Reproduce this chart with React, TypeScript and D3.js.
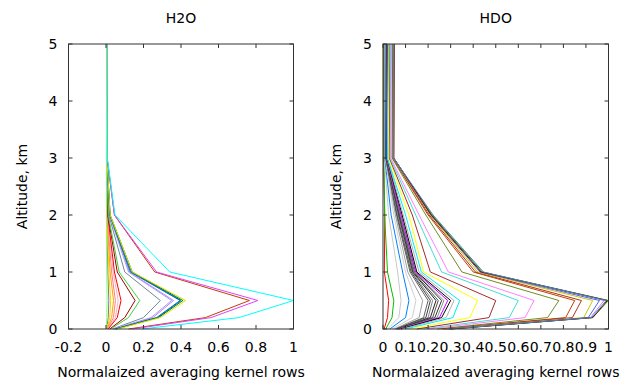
import React from 'react';
import * as d3 from 'd3';

const ALTITUDES = [0, 0.2, 0.5, 1, 2, 3, 5];
const Y_TICKS = [0, 1, 2, 3, 4, 5];

const H2O_X_TICKS = [-0.2, 0, 0.2, 0.4, 0.6, 0.8, 1];
const H2O_X_LABELS = ['-0.2', '0', '0.2', '0.4', '0.6', '0.8', '1'];
const HDO_X_TICKS = [0, 0.1, 0.2, 0.3, 0.4, 0.5, 0.6, 0.7, 0.8, 0.9, 1];
const HDO_X_LABELS = ['0', '0.1', '0.2', '0.3', '0.4', '0.5', '0.6', '0.7', '0.8', '0.9', '1'];

// H2O kernel rows, values at ALTITUDES
const H2O_SERIES = [
  [0.003, 0.012, 0.015, 0.01, 0.004, 0.003, 0.005],
  [0.005, 0.02, 0.025, 0.015, 0.005, 0.003, 0.005],
  [0.006, 0.03, 0.04, 0.022, 0.006, 0.003, 0.005],
  [0.008, 0.04, 0.05, 0.03, 0.007, 0.003, 0.005],
  [0.01, 0.05, 0.065, 0.038, 0.008, 0.003, 0.005],
  [0.012, 0.06, 0.08, 0.045, 0.009, 0.003, 0.005],
  [0.02, 0.1, 0.155, 0.06, 0.01, 0.004, 0.005],
  [0.025, 0.12, 0.18, 0.07, 0.012, 0.004, 0.005],
  [0.035, 0.2, 0.29, 0.1, 0.015, 0.004, 0.005],
  [0.04, 0.24, 0.35, 0.12, 0.018, 0.004, 0.005],
  [0.045, 0.25, 0.36, 0.125, 0.02, 0.004, 0.005],
  [0.05, 0.27, 0.395, 0.13, 0.02, 0.005, 0.005],
  [0.05, 0.275, 0.4, 0.135, 0.021, 0.005, 0.005],
  [0.055, 0.28, 0.41, 0.14, 0.022, 0.005, 0.005],
  [0.06, 0.29, 0.425, 0.14, 0.022, 0.005, 0.005],
  [0.12, 0.53, 0.765, 0.26, 0.045, 0.006, 0.005],
  [0.14, 0.56, 0.81, 0.27, 0.045, 0.006, 0.005],
  [0.19, 0.71, 1.0, 0.34, 0.048, 0.007, 0.005],
  [0.001, 0.004, 0.006, 0.004, 0.002, 0.002, 0.005],
];
const H2O_COLORS = [
  '#808080', '#ffd000', '#ffa500', '#ff8080', '#ffb0c0', '#ff0000',
  '#a00000', '#40d040', '#708898', '#a0a0ff', '#c080ff', '#008080',
  '#0060ff', '#008000', '#e0e000', '#c04000', '#e040ff', '#00ffff', '#80ff80',
];

// HDO kernel rows, values at ALTITUDES
const HDO_SERIES = [
  [0.005, 0.02, 0.025, 0.006, 0.008, 0.002, 0.002],
  [0.012, 0.04, 0.048, 0.02, 0.007, 0.004, 0.004],
  [0.02, 0.07, 0.08, 0.065, 0.025, 0.006, 0.007],
  [0.03, 0.1, 0.115, 0.087, 0.036, 0.008, 0.009],
  [0.04, 0.13, 0.146, 0.1, 0.048, 0.01, 0.011],
  [0.05, 0.16, 0.176, 0.11, 0.055, 0.011, 0.013],
  [0.055, 0.18, 0.2, 0.12, 0.06, 0.012, 0.014],
  [0.06, 0.19, 0.21, 0.125, 0.063, 0.013, 0.015],
  [0.062, 0.2, 0.22, 0.128, 0.066, 0.013, 0.016],
  [0.065, 0.21, 0.235, 0.132, 0.07, 0.014, 0.017],
  [0.068, 0.22, 0.245, 0.135, 0.072, 0.015, 0.018],
  [0.07, 0.23, 0.26, 0.14, 0.075, 0.015, 0.019],
  [0.072, 0.24, 0.27, 0.142, 0.077, 0.016, 0.02],
  [0.075, 0.25, 0.287, 0.145, 0.08, 0.017, 0.021],
  [0.08, 0.26, 0.3, 0.15, 0.085, 0.018, 0.022],
  [0.085, 0.28, 0.315, 0.16, 0.09, 0.019, 0.023],
  [0.1, 0.31, 0.34, 0.17, 0.1, 0.02, 0.025],
  [0.12, 0.385, 0.42, 0.18, 0.115, 0.025, 0.028],
  [0.15, 0.47, 0.5, 0.21, 0.13, 0.028, 0.031],
  [0.18, 0.56, 0.6, 0.26, 0.145, 0.031, 0.034],
  [0.2, 0.63, 0.67, 0.29, 0.16, 0.034, 0.038],
  [0.24, 0.73, 0.78, 0.35, 0.19, 0.04, 0.043],
  [0.26, 0.81, 0.85, 0.4, 0.2, 0.043, 0.045],
  [0.27, 0.84, 0.88, 0.41, 0.205, 0.044, 0.046],
  [0.28, 0.89, 0.93, 0.42, 0.21, 0.045, 0.047],
  [0.285, 0.91, 0.96, 0.43, 0.212, 0.046, 0.047],
  [0.29, 0.92, 0.98, 0.435, 0.215, 0.046, 0.048],
  [0.3, 0.93, 1.0, 0.44, 0.218, 0.047, 0.049],
  [0.3, 0.93, 0.995, 0.435, 0.214, 0.048, 0.05],
  [0.29, 0.925, 0.99, 0.445, 0.222, 0.047, 0.048],
];
const HDO_COLORS = [
  '#ff0000', '#00c000', '#c8c8c8', '#0080ff', '#d0d0d0', '#a0a0a0',
  '#606060', '#404040', '#808080', '#202020', '#505050', '#303030',
  '#909090', '#c000ff', '#000000', '#b0b0b0', '#00eeee', '#ffff00',
  '#a52a2a', '#40e0d0', '#ff80ff', '#6b8e23', '#c04000', '#b03020',
  '#c8c800', '#4169e1', '#c080ff', '#00c000', '#8b0000', '#5080c0',
];

const FONT = '"DejaVu Sans", sans-serif';
const TOP = 44;
const BOTTOM = 329;
const TICK = 4;

type PanelProps = {
  title: string;
  left: number;
  right: number;
  xDomain: [number, number];
  xTicks: number[];
  xLabels: string[];
  series: number[][];
  colors: string[];
};

function Panel({ title, left, right, xDomain, xTicks, xLabels, series, colors }: PanelProps) {
  const x = d3.scaleLinear().domain(xDomain).range([left, right]);
  const y = d3.scaleLinear().domain([0, 5]).range([BOTTOM, TOP]);
  const line = d3
    .line<number>()
    .x((v) => x(v))
    .y((_, i) => y(ALTITUDES[i]));
  const cx = (left + right) / 2;
  return (
    <g fontFamily={FONT} fontSize={14} fill="#000">
      <text x={cx} y={23} textAnchor="middle">{title}</text>
      {series.map((s, i) => (
        <path key={i} d={line(s) || ''} fill="none" stroke={colors[i % colors.length]} strokeWidth={1} />
      ))}
      <rect x={left} y={TOP} width={right - left} height={BOTTOM - TOP} fill="none" stroke="#333" strokeWidth={1} />
      {Y_TICKS.map((t) => (
        <g key={'y' + t}>
          <line x1={left} x2={left + TICK} y1={y(t)} y2={y(t)} stroke="#333" />
          <line x1={right} x2={right - TICK} y1={y(t)} y2={y(t)} stroke="#333" />
          <text x={left - 11} y={y(t) + 5} textAnchor="end">{String(t)}</text>
        </g>
      ))}
      {xTicks.map((t, i) => (
        <g key={'x' + i}>
          <line x1={x(t)} x2={x(t)} y1={BOTTOM} y2={BOTTOM - TICK} stroke="#333" />
          <line x1={x(t)} x2={x(t)} y1={TOP} y2={TOP + TICK} stroke="#333" />
          <text x={x(t)} y={352} textAnchor="middle">{xLabels[i]}</text>
        </g>
      ))}
      <text x={cx} y={377} textAnchor="middle">Normalaized averaging kernel rows</text>
      <text
        transform={`translate(${left - 42},${(TOP + BOTTOM) / 2}) rotate(-90)`}
        textAnchor="middle"
      >
        Altitude, km
      </text>
    </g>
  );
}

export default function App() {
  return (
    <svg
      width={636}
      height={384}
      style={{ position: 'absolute', left: 0, top: 0, background: '#fff' }}
    >
      <rect width={636} height={384} fill="#fff" />
      <Panel
        title="H2O"
        left={68.5}
        right={293.5}
        xDomain={[-0.2, 1]}
        xTicks={H2O_X_TICKS}
        xLabels={H2O_X_LABELS}
        series={H2O_SERIES}
        colors={H2O_COLORS}
      />
      <Panel
        title="HDO"
        left={383}
        right={608.5}
        xDomain={[0, 1]}
        xTicks={HDO_X_TICKS}
        xLabels={HDO_X_LABELS}
        series={HDO_SERIES}
        colors={HDO_COLORS}
      />
    </svg>
  );
}
